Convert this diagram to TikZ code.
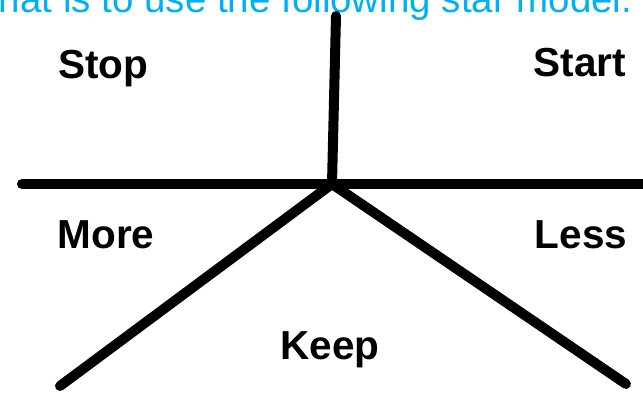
\documentclass[tikz,border=0pt]{standalone}
\usepackage{fontspec}
\setmainfont{Liberation Sans}
\definecolor{cyantext}{HTML}{00B0F0}
\begin{document}
\begin{tikzpicture}[x=1pt,y=-1pt,
  lbl/.style={font=\fontsize{40.5}{45}\selectfont\bfseries, inner sep=0pt, anchor=base},
  bar/.style={line width=10pt, line cap=round}]
\useasboundingbox (0,0) rectangle (643,396);
\node[anchor=base west, inner sep=0pt, text=cyantext, font=\fontsize{38.5}{42}\selectfont] (title) at (-12,13) {that is to use the following star model.};
\coordinate (c) at (332,184);
\coordinate (top) at (336,16);
\coordinate (l) at (22,184);
\coordinate (r) at (650,184);
\coordinate (bl) at (60,386);
\coordinate (br) at (626,384);
\draw[bar] (c) -- (top);
\draw[bar] (l) -- (r);
\draw[bar] (c) -- (bl);
\draw[bar] (c) -- (br);
\node[lbl] (stop) at (103,79) {Stop};
\node[lbl] (start) at (580,77) {Start};
\node[lbl] (more) at (106,248) {More};
\node[lbl] (less) at (581,248) {Less};
\node[lbl] (keep) at (330,359) {Keep};
\end{tikzpicture}
\end{document}
